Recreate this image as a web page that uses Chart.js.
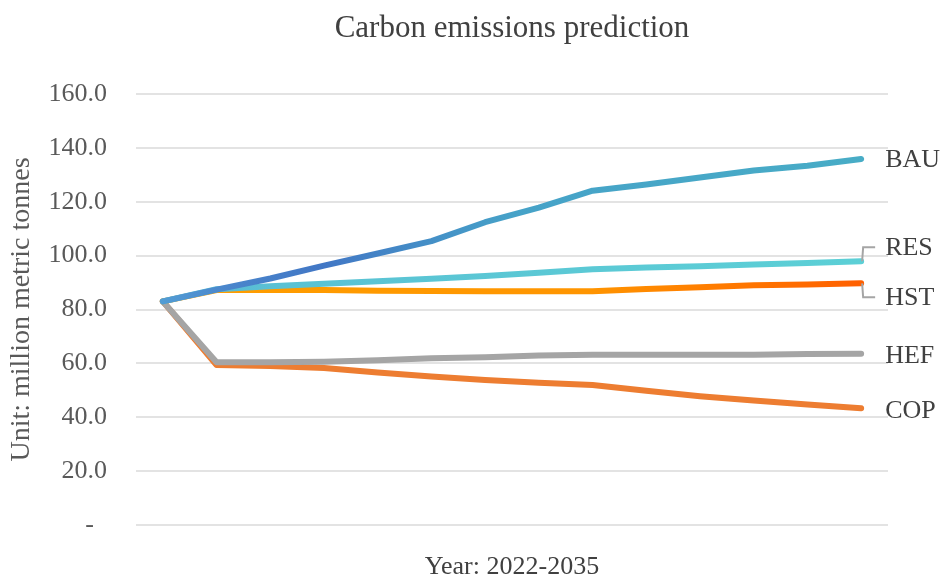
<!DOCTYPE html>
<html>
<head>
<meta charset="utf-8">
<script src="https://cdn.jsdelivr.net/npm/chart.js@4"></script>
<style>
  body { margin: 0; background: #fff; }
  #wrap { width: 943px; height: 580px; }
</style>
</head>
<body>
<div id="wrap"><canvas id="myChart" width="943" height="580"></canvas></div>
<script>
// years 2022-2035, x axis has no visible labels
const years = ["2022","2023","2024","2025","2026","2027","2028","2029","2030","2031","2032","2033","2034","2035"];
// series, million metric tonnes
const bau = [83, 87.4, 91.5, 96.3, 100.8, 105.4, 112.4, 117.8, 124.1, 126.4, 129.0, 131.6, 133.4, 135.9];
const res = [83, 87.5, 88.6, 89.6, 90.5, 91.4, 92.4, 93.6, 94.9, 95.6, 96.1, 96.7, 97.3, 97.9];
const hst = [83, 87.2, 87.2, 87.2, 87.0, 86.9, 86.8, 86.8, 86.8, 87.6, 88.3, 89.0, 89.3, 89.7];
const hef = [83, 60.4, 60.4, 60.6, 61.2, 61.9, 62.3, 62.9, 63.2, 63.2, 63.2, 63.2, 63.5, 63.6];
const cop = [83, 59.4, 59.0, 58.3, 56.6, 55.1, 53.8, 52.8, 52.0, 49.8, 47.8, 46.2, 44.7, 43.3];
const seriesNames = ["BAU", "RES", "HST", "HEF", "COP"];
const yTicks = [0, 20, 40, 60, 80, 100, 120, 140, 160];

const serif = "'Liberation Serif', 'Times New Roman', serif";

// gradients along the x axis, like the excel line fills
function gradient(ctx, stops) {
  const area = ctx.chart.chartArea;
  if (!area) return stops[0][1];
  const g = ctx.chart.ctx.createLinearGradient(area.left, 0, area.right, 0);
  stops.forEach(s => g.addColorStop(s[0], s[1]));
  return g;
}

// end labels with small leader lines for RES / HST
const endLabels = {
  id: 'endLabels',
  afterDatasetsDraw(chart) {
    const c = chart.ctx;
    const offsets = [0, -14, 14, 1, 2];
    c.save();
    c.font = "26px " + serif;
    c.fillStyle = "#404040";
    c.textBaseline = "middle";
    chart.data.datasets.forEach((ds, i) => {
      const meta = chart.getDatasetMeta(i);
      const p = meta.data[meta.data.length - 1];
      const ty = p.y + offsets[i];
      if (i === 1 || i === 2) {
        c.strokeStyle = "#A5A5A5";
        c.lineWidth = 2;
        c.beginPath();
        c.moveTo(p.x + 1, p.y);
        c.lineTo(p.x + 2, ty);
        c.lineTo(p.x + 14, ty);
        c.stroke();
      }
      c.fillText(seriesNames[i], p.x + 24, ty + 1);
    });
    // chart title centered on the plot area
    c.font = "31px " + serif;
    c.textAlign = "center";
    c.fillText("Carbon emissions prediction", (chart.chartArea.left + chart.chartArea.right) / 2, 29);
    c.restore();
  }
};

const lineBase = {
  borderWidth: 6,
  pointRadius: 0,
  tension: 0,
  fill: false,
  borderCapStyle: 'round',
  borderJoinStyle: 'round'
};

const data = {
  labels: years,
  datasets: [
    Object.assign({ label: "BAU", data: bau,
      borderColor: ctx => gradient(ctx, [[0, "#56A6D8"], [0.12, "#4A86CC"], [0.25, "#4277C5"], [0.5, "#46A2C8"], [1, "#48ADC6"]]) }, lineBase),
    Object.assign({ label: "RES", data: res, borderColor: ctx => gradient(ctx, [[0, "#58B2D6"], [0.2, "#5AC2D4"], [1, "#5CD0D6"]]) }, lineBase),
    Object.assign({ label: "HST", data: hst,
      borderColor: ctx => gradient(ctx, [[0, "#FF9F00"], [0.6, "#FF9500"], [1, "#FF5A00"]]) }, lineBase),
    Object.assign({ label: "HEF", data: hef, borderColor: "#A5A5A5" }, lineBase),
    Object.assign({ label: "COP", data: cop, borderColor: "#ED7D31" }, lineBase)
  ]
};

const config = {
  type: 'line',
  data: data,
  options: {
    responsive: false,
    animation: false,
    layout: { padding: { top: 94, right: 55, left: 0, bottom: 0 } },
    plugins: {
      legend: { display: false },
      tooltip: { enabled: false },
      title: { display: false }
    },
    scales: {
      x: {
        offset: true,
        grid: { display: false },
        border: { display: false },
        ticks: { display: false },
        title: { display: true, text: "Year: 2022-2035", color: "#404040",
          font: { family: serif, size: 26, lineHeight: 1 }, padding: { top: 0, bottom: 0 } },
        afterFit(scale) { scale.height = 55; }
      },
      y: {
        min: 0,
        max: 160,
        afterBuildTicks(scale) { scale.ticks = yTicks.map(v => ({ value: v })); },
        grid: { color: "#E3E3E3", lineWidth: 2, drawTicks: false },
        border: { display: false },
        ticks: {
          color: "#595959",
          padding: 29,
          font: { family: serif, size: 26 },
          callback: v => v === 0 ? "-  " : v.toFixed(1)
        },
        title: { display: true, text: "Unit: million metric tonnes", color: "#595959",
          font: { family: serif, size: 28, lineHeight: 1.2 }, padding: { top: 5, bottom: 0 } },
        afterFit(scale) { scale.width = 136; }
      }
    }
  },
  plugins: [endLabels]
};

const ctx = document.getElementById("myChart").getContext("2d");
const myChart = new Chart(ctx, config);
</script>
</body>
</html>
